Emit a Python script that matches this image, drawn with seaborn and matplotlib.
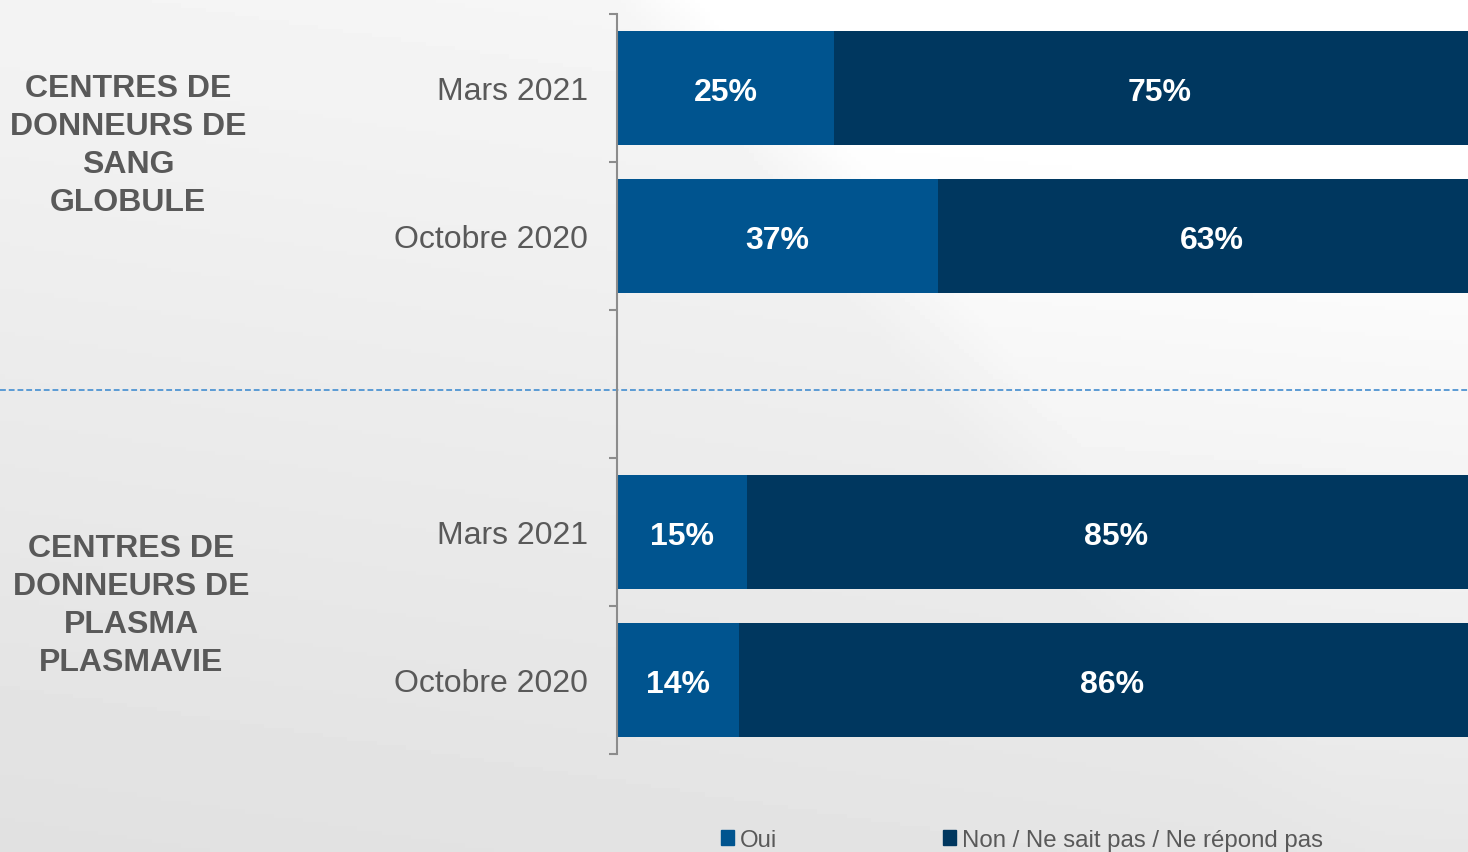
import numpy as np
import pandas as pd
import seaborn as sns
import matplotlib.pyplot as plt
from matplotlib.patches import Patch

# data
slots = ["sang_mars", "sang_oct", "gap", "plasma_mars", "plasma_oct"]
slot_labels = ["Mars 2021", "Octobre 2020", "", "Mars 2021", "Octobre 2020"]
bar_slots = ["sang_mars", "sang_oct", "plasma_mars", "plasma_oct"]
oui = [25, 37, 15, 14]
non = [75, 63, 85, 86]
groups = ["CENTRES DE\nDONNEURS DE\nSANG\nGLOBULE",
          "CENTRES DE\nDONNEURS DE\nPLASMA\nPLASMAVIE"]
series_names = ["Oui", "Non / Ne sait pas / Ne répond pas"]

c_oui = "#00548F"
c_non = "#00375F"
grey = "#595959"

df = pd.DataFrame({"slot": bar_slots, "oui": oui, "non": non})
df["total"] = df["oui"] + df["non"]

sns.set_style("white")
plt.rcParams["font.family"] = ["Liberation Sans", "DejaVu Sans"]

fig = plt.figure(figsize=(14.68, 8.53), dpi=100)

# soft grey background
bg = fig.add_axes([0, 0, 1, 1], zorder=-1)
yy, xx = np.mgrid[0:1:200j, 0:1:300j]
base = 0.955 - 0.075 * yy + 0.02 * xx
wedge = np.clip((xx - 0.42 - 0.45 * yy) * 12, 0, 1)
img = np.clip(base + 0.05 * wedge * (1 - yy * 0.9), 0, 1)
bg.imshow(img, cmap="gray", vmin=0, vmax=1, aspect="auto", extent=[0, 1, 0, 1])
bg.axis("off")

ax = fig.add_axes([617 / 1468, 1 - 755 / 853, 868 / 1468, 740 / 853])
ax.set_facecolor("none")

sns.barplot(data=df, y="slot", x="total", order=slots, color=c_non,
            width=0.77, saturation=1, orient="h", linewidth=0, ax=ax)
sns.barplot(data=df, y="slot", x="oui", order=slots, color=c_oui,
            width=0.77, saturation=1, orient="h", linewidth=0, ax=ax)

for i, row in df.iterrows():
    yi = slots.index(row["slot"])
    ax.text(row["oui"] / 2, yi + 0.025, f"{row['oui']}%", ha="center", va="center",
            color="white", fontsize=23, fontweight="bold")
    ax.text(row["oui"] + row["non"] / 2, yi + 0.025, f"{row['non']}%", ha="center",
            va="center", color="white", fontsize=23, fontweight="bold")

ax.set_xlim(0, 100)
ax.set_ylim(4.5, -0.5)
ax.set_xlabel("")
ax.set_ylabel("")
ax.set_xticks([])
ax.set_yticks(range(len(slots)))
ax.set_yticklabels(slot_labels, fontsize=23, color=grey)
ax.set_yticks(np.arange(-0.5, len(slots)), minor=True)
ax.tick_params(axis="y", which="major", length=0, pad=21)
ax.tick_params(axis="y", which="minor", length=6, width=1.5, color="#8c8c8c", left=True)
for s in ["top", "right", "bottom"]:
    ax.spines[s].set_visible(False)
ax.spines["left"].set_color("#8c8c8c")
ax.spines["left"].set_linewidth(1.5)

# separator between the two groups
ax.axhline(2.04, xmin=-617 / 868, xmax=1, clip_on=False, color="#5B9BD5",
           lw=1.4, dashes=(3, 1.5))

fig.text(128 / 1468, 1 - 146 / 853, groups[0], ha="center", va="center",
         fontsize=23, fontweight="bold", color=grey, linespacing=1.34)
fig.text(131 / 1468, 1 - 606 / 853, groups[1], ha="center", va="center",
         fontsize=23, fontweight="bold", color=grey, linespacing=1.34)

handles = [Patch(color=c_oui), Patch(color=c_non)]
fig.legend(handles, series_names, loc="center left",
           bbox_to_anchor=(721 / 1468, 1 - 841 / 853), ncol=2, frameon=False,
           fontsize=17.3, labelcolor=grey, handlelength=0.55, handleheight=0.55,
           handletextpad=0.25, columnspacing=6.9, borderpad=0, borderaxespad=0)

fig.savefig("out.png", dpi=100)
